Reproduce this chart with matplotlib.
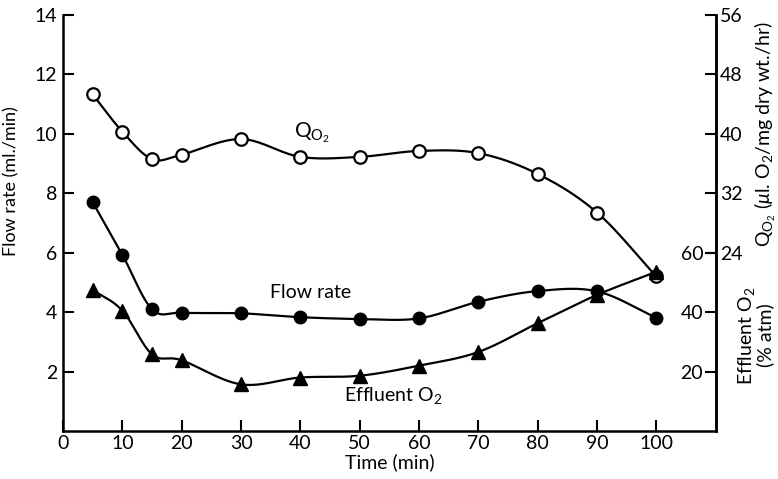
import numpy as np
import matplotlib
matplotlib.use("Agg")
import matplotlib.pyplot as plt

## data
time = [5, 10, 15, 20, 30, 40, 50, 60, 70, 80, 90, 100]
flow_rate = [7.70, 5.93, 4.10, 3.98, 3.96, 3.83, 3.77, 3.79, 4.35, 4.71, 4.70, 3.81]
qo2 = [45.3, 40.3, 36.6, 37.2, 39.3, 36.9, 36.9, 37.7, 37.4, 34.6, 29.4, 20.8]
effluent_o2 = [47.5, 40.5, 25.8, 23.8, 15.7, 18.0, 18.6, 22.0, 26.6, 36.3, 45.8, 53.6]

x_ticks = [0, 10, 20, 30, 40, 50, 60, 70, 80, 90, 100]
left_ticks = [2, 4, 6, 8, 10, 12, 14]
q_ticks = [24, 32, 40, 48, 56]
eff_ticks = [20, 40, 60]

plt.rcParams["font.family"] = ["Lato", "DejaVu Sans"]
plt.rcParams["mathtext.fontset"] = "custom"
plt.rcParams["mathtext.rm"] = "Lato"
plt.rcParams["mathtext.it"] = "Lato:italic"

FS = 14


def smooth(x, y, n=30):
    # catmull-rom curve through the points, only for drawing the line
    x = np.asarray(x, float)
    y = np.asarray(y, float)
    px = np.concatenate([[2 * x[0] - x[1]], x, [2 * x[-1] - x[-2]]])
    py = np.concatenate([[2 * y[0] - y[1]], y, [2 * y[-1] - y[-2]]])
    xs, ys = [], []
    t = np.linspace(0, 1, n)
    for i in range(1, len(px) - 2):
        for arr, out in ((px, xs), (py, ys)):
            p0, p1, p2, p3 = arr[i - 1], arr[i], arr[i + 1], arr[i + 2]
            out.extend(0.5 * (2 * p1 + (-p0 + p2) * t
                              + (2 * p0 - 5 * p1 + 4 * p2 - p3) * t ** 2
                              + (-p0 + 3 * p1 - 3 * p2 + p3) * t ** 3))
    return np.array(xs), np.array(ys)


fig = plt.figure(figsize=(7.78, 4.79), dpi=100)
ax = fig.add_axes([0.081, 0.1002, 0.839, 0.8685])
ax_q = ax.twinx()
ax_e = ax.twinx()

ax.set_xlim(0, 110)
ax.set_ylim(0, 14)
ax_q.set_ylim(0, 56)
ax_e.set_ylim(0, 140)

## lines
sx, sy = smooth(time, flow_rate)
ax.plot(sx, sy, color="black", lw=1.6, zorder=2)
ax.plot(time, flow_rate, "o", color="black", ms=9, zorder=3)

sx, sy = smooth(time, qo2)
ax_q.plot(sx, sy, color="black", lw=1.6, zorder=2)
ax_q.plot(time, qo2, "o", mfc="white", mec="black", mew=1.6, ms=9, zorder=3)

sx, sy = smooth(time, effluent_o2)
ax_e.plot(sx, sy, color="black", lw=1.6, zorder=2)
ax_e.plot(time, effluent_o2, "^", color="black", ms=10, zorder=3)

## axes style
for a in (ax, ax_q, ax_e):
    a.spines["top"].set_visible(False)
    for s in a.spines.values():
        s.set_linewidth(1.8)

ax.spines["right"].set_visible(False)
ax_q.spines["left"].set_visible(False)
ax_q.spines["bottom"].set_visible(False)
ax_e.spines["right"].set_visible(False)
ax_e.spines["bottom"].set_visible(False)
ax_e.spines["left"].set_position(("axes", 1.0))
ax_e.yaxis.tick_left()

ax.set_xticks(x_ticks)
ax.set_yticks(left_ticks)
ax_q.set_yticks(q_ticks)
ax_e.set_yticks(eff_ticks)

ax.tick_params(axis="both", direction="in", length=8, width=1.5, labelsize=FS, pad=4)
ax.tick_params(axis="x", pad=3)
ax_q.tick_params(axis="y", direction="in", length=8, width=1.5, labelsize=FS, pad=3)
ax_e.tick_params(axis="y", direction="out", length=8, width=1.5, labelsize=FS, pad=1)

ax.set_xlabel("Time (min)", fontsize=FS, labelpad=1)
ax.set_ylabel("Flow rate (ml./min)", fontsize=13)
ax.yaxis.set_label_coords(-0.066, 0.60)

fig.text(0.984, 0.72, r"Q$_{\mathrm{O_2}}$ ($\mathit{\mu}$l. O$_2$/mg dry wt./hr)",
         rotation=90, fontsize=FS, ha="center", va="center")
fig.text(0.971, 0.30, "Effluent O$_2$\n(% atm)", rotation=90, fontsize=FS,
         ha="center", va="center", multialignment="center", linespacing=0.95)

## curve labels
ax.text(42, 10.05, r"Q$_{\mathrm{O_2}}$", fontsize=15, ha="center", va="center")
ax.text(41.8, 4.66, "Flow rate", fontsize=FS, ha="center", va="center")
ax.text(55.7, 1.19, "Effluent O$_2$", fontsize=FS, ha="center", va="center")

plt.savefig("out.png", dpi=100)
